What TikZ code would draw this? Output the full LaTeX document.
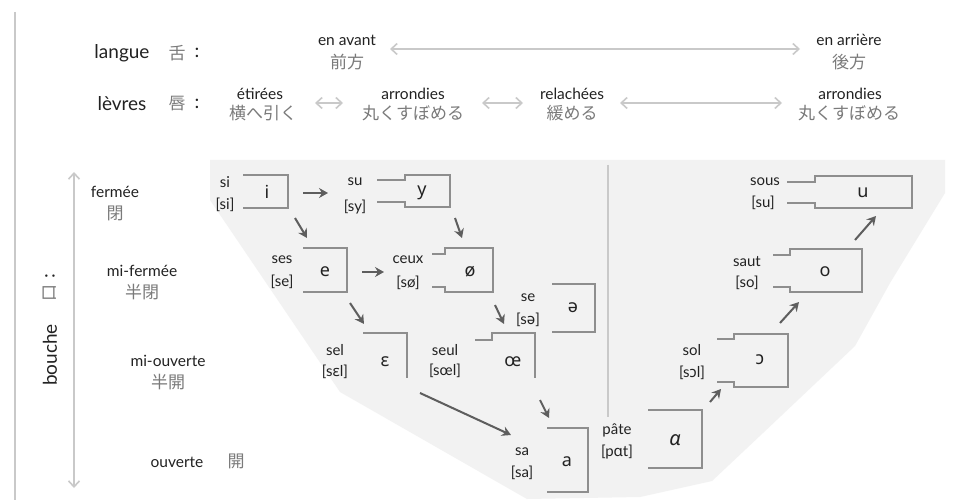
\documentclass[tikz,border=0pt]{standalone}
\usepackage{fontspec}
\setmainfont{Lato}
\newfontfamily\jp{Noto Sans CJK JP}
\newfontfamily\ipafont{Noto Sans}
\newcommand\ip[1]{{\ipafont #1}}
\usetikzlibrary{arrows.meta}
\definecolor{bg}{HTML}{F2F2F2}
\definecolor{txt}{HTML}{222222}
\definecolor{jpgray}{HTML}{7A7A7A}
\definecolor{boxgray}{HTML}{8E8E8E}
\definecolor{arrgray}{HTML}{5E5E5E}
\definecolor{axgray}{HTML}{C9C9C9}
\begin{document}
\begin{tikzpicture}[x=1pt,y=-1pt,
  big/.style={text=txt,font=\fontsize{19}{20}\selectfont,inner sep=0},
  fr/.style={text=txt,font=\fontsize{15.5}{16}\selectfont,inner sep=0},
  wl/.style={text=txt,font=\fontsize{15}{16}\selectfont,inner sep=0},
  ja/.style={text=jpgray,font=\jp\fontsize{17}{18}\selectfont,inner sep=0},
  ipa/.style={text=txt,font=\ipafont\fontsize{18}{19}\selectfont,inner sep=0},
  bx/.style={draw=boxgray,line width=1.7pt},
  arr/.style={draw=arrgray,line width=2pt,-{Stealth[length=9pt,width=10pt,inset=3pt]}},
  axis/.style={draw=axgray,line width=1.6pt,{Straight Barb[length=6pt,width=11pt]}-{Straight Barb[length=6pt,width=11pt]}}]
\useasboundingbox (0,0) rectangle (956,500);
\fill[white] (0,0) rectangle (956,500);
% grey background region
\fill[bg] (210,160) -- (945,160) -- (945,193) -- (890,283) -- (855,346) -- (763,433) -- (712,481)
  -- (640,497) -- (527,499) -- (340,392) -- (210,200) -- cycle;
% left border
\draw[axgray,line width=1.8pt] (15,12) -- (15,500);
% divider
\draw[axgray,line width=1.4pt] (608,165) -- (608,417);

% header rows
\node[big] (langue) at (122,53) {langue};
\node[ja] (langueja) at (177,53) {舌};
\node[big] (languec) at (197,53) {:};
\node[big] (levres) at (122,104) {lèvres};
\node[ja] (levresja) at (177,104) {唇};
\node[big] (levresc) at (197,104) {:};

\node[fr] (avant) at (347,40) {en avant};
\node[ja] (avantja) at (347,62) {前方};
\node[fr] (arriere) at (849,40) {en arrière};
\node[ja] (arriereja) at (849,62) {後方};
\coordinate (t1) at (390,49);
\coordinate (t2) at (800,49);
\draw[axis] (t1) -- (t2);

\node[fr] (etirees) at (260,94) {étirées};
\node[ja] (etireesja) at (263,113) {横へ引く};
\node[fr] (arr1) at (413,94) {arrondies};
\node[ja] (arr1ja) at (413,113) {丸くすぼめる};
\node[fr] (relachees) at (572,94) {relachées};
\node[ja] (relacheesja) at (572,113) {緩める};
\node[fr] (arr2) at (850,94) {arrondies};
\node[ja] (arr2ja) at (849,113) {丸くすぼめる};
\coordinate (l1a) at (315,103); \coordinate (l1b) at (343,103);
\coordinate (l2a) at (482,103); \coordinate (l2b) at (523,103);
\coordinate (l3a) at (620,103); \coordinate (l3b) at (782,103);
\draw[axis] (l1a) -- (l1b);
\draw[axis] (l2a) -- (l2b);
\draw[axis] (l3a) -- (l3b);

% vertical axis
\coordinate (v1) at (74,172);
\coordinate (v2) at (74,488);
\draw[axis] (v1) -- (v2);
\node[big,rotate=90] (bouche) at (50,355) {bouche};
\node[ja,rotate=90] (boucheja) at (50,293) {口};
\node[big,rotate=90] (bouchec) at (50,276) {:};

\node[fr] (fermee) at (115,192) {fermée};
\node[ja] (fermeeja) at (115,213) {閉};
\node[fr] (mifermee) at (142,271) {mi-fermée};
\node[ja] (mifermeeja) at (142,292) {半閉};
\node[fr] (miouverte) at (168,361) {mi-ouverte};
\node[ja] (miouverteja) at (168,382) {半開};
\node[fr] (ouverte) at (177,462) {ouverte};
\node[ja] (ouverteja) at (236,461) {開};

% boxes
\draw[bx] (243,175) -- (288,175) -- (288,208) -- (243,208);
\draw[bx] (377,180) -- (405,180) -- (405,175) -- (450,175) -- (450,207) -- (405,207) -- (405,202) -- (377,202);
\draw[bx] (303,248) -- (347,248) -- (347,292) -- (303,292);
\draw[bx] (432,254) -- (445,254) -- (445,248) -- (493,248) -- (493,292) -- (445,292) -- (445,287) -- (432,287);
\draw[bx] (552,284) -- (595,284) -- (595,332) -- (552,332);
\draw[bx] (363,333) -- (407,333) -- (407,378);
\draw[bx] (475,340) -- (492,340) -- (492,333) -- (535,333) -- (535,378);
\draw[bx] (547,428) -- (588,428) -- (588,492) -- (547,492);
\draw[bx] (648,410) -- (702,410) -- (702,468) -- (648,468);
\draw[bx] (717,339) -- (734,339) -- (734,334) -- (788,334) -- (788,387) -- (734,387) -- (734,382) -- (717,382);
\draw[bx] (773,255) -- (790,255) -- (790,249) -- (862,249) -- (862,292) -- (790,292) -- (790,287) -- (773,287);
\draw[bx] (787,182) -- (815,182) -- (815,176) -- (912,176) -- (912,208) -- (815,208) -- (815,203) -- (787,203);

% IPA symbols
\node[ipa] (vi) at (267,192) {i};
\node[ipa] (vy) at (422,193) {y};
\node[ipa] (ve) at (325,272) {e};
\node[ipa] (voe) at (470,272) {ø};
\node[ipa] (vschwa) at (573,308) {ə};
\node[ipa] (veps) at (385,362) {ɛ};
\node[ipa] (voel) at (513,362) {œ};
\node[ipa] (va) at (567,462) {a};
\node[ipa,font=\ipafont\itshape\fontsize{20}{21}\selectfont] (valpha) at (675,440) {ɑ};
\node[ipa] (vopen) at (760,360) {ɔ};
\node[ipa] (vo) at (825,272) {o};
\node[ipa] (vu) at (863,193) {u};

% word labels
\node[wl] (w1) at (225,182) {si};      \node[wl] (w1p) at (225,205) {[si]};
\node[wl] (w2) at (355,182) {su};      \node[wl] (w2p) at (355,207) {[sy]};
\node[wl] (w3) at (282,260) {ses};     \node[wl] (w3p) at (282,282) {[se]};
\node[wl] (w4) at (408,260) {ceux};    \node[wl] (w4p) at (408,283) {[sø]};
\node[wl] (w5) at (528,298) {se};      \node[wl] (w5p) at (528,320) {[s\ip{ə}]};
\node[wl] (w6) at (335,350) {sel};     \node[wl] (w6p) at (335,372) {[s\ip{ɛ}l]};
\node[wl] (w7) at (445,350) {seul};    \node[wl] (w7p) at (445,371) {[sœl]};
\node[wl] (w8) at (522,452) {sa};      \node[wl] (w8p) at (522,473) {[sa]};
\node[wl] (w9) at (617,430) {pâte};    \node[wl] (w9p) at (617,452) {[p\ip{ɑ}t]};
\node[wl] (w10) at (692,350) {sol};    \node[wl] (w10p) at (692,373) {[s\ip{ɔ}l]};
\node[wl] (w11) at (747,262) {saut};   \node[wl] (w11p) at (747,283) {[so]};
\node[wl] (w12) at (765,182) {sous};   \node[wl] (w12p) at (763,203) {[su]};

% arrows
\coordinate (a1s) at (303,193); \coordinate (a1e) at (328,193);
\coordinate (a2s) at (295,218); \coordinate (a2e) at (307,238);
\coordinate (a3s) at (455,218); \coordinate (a3e) at (462,238);
\coordinate (a4s) at (362,272); \coordinate (a4e) at (384,272);
\coordinate (a5s) at (350,303); \coordinate (a5e) at (364,324);
\coordinate (a6s) at (495,305); \coordinate (a6e) at (504,324);
\coordinate (a7s) at (420,393); \coordinate (a7e) at (511,435);
\coordinate (a8s) at (540,400); \coordinate (a8e) at (549,418);
\coordinate (a9s) at (710,402); \coordinate (a9e) at (721,389);
\coordinate (a10s) at (780,323); \coordinate (a10e) at (799,302);
\coordinate (a11s) at (855,240); \coordinate (a11e) at (876,216);
\foreach \s/\e in {a1s/a1e,a2s/a2e,a3s/a3e,a4s/a4e,a5s/a5e,a6s/a6e,a7s/a7e,a8s/a8e,a9s/a9e,a10s/a10e,a11s/a11e}
  \draw[arr] (\s) -- (\e);
\end{tikzpicture}
\end{document}
